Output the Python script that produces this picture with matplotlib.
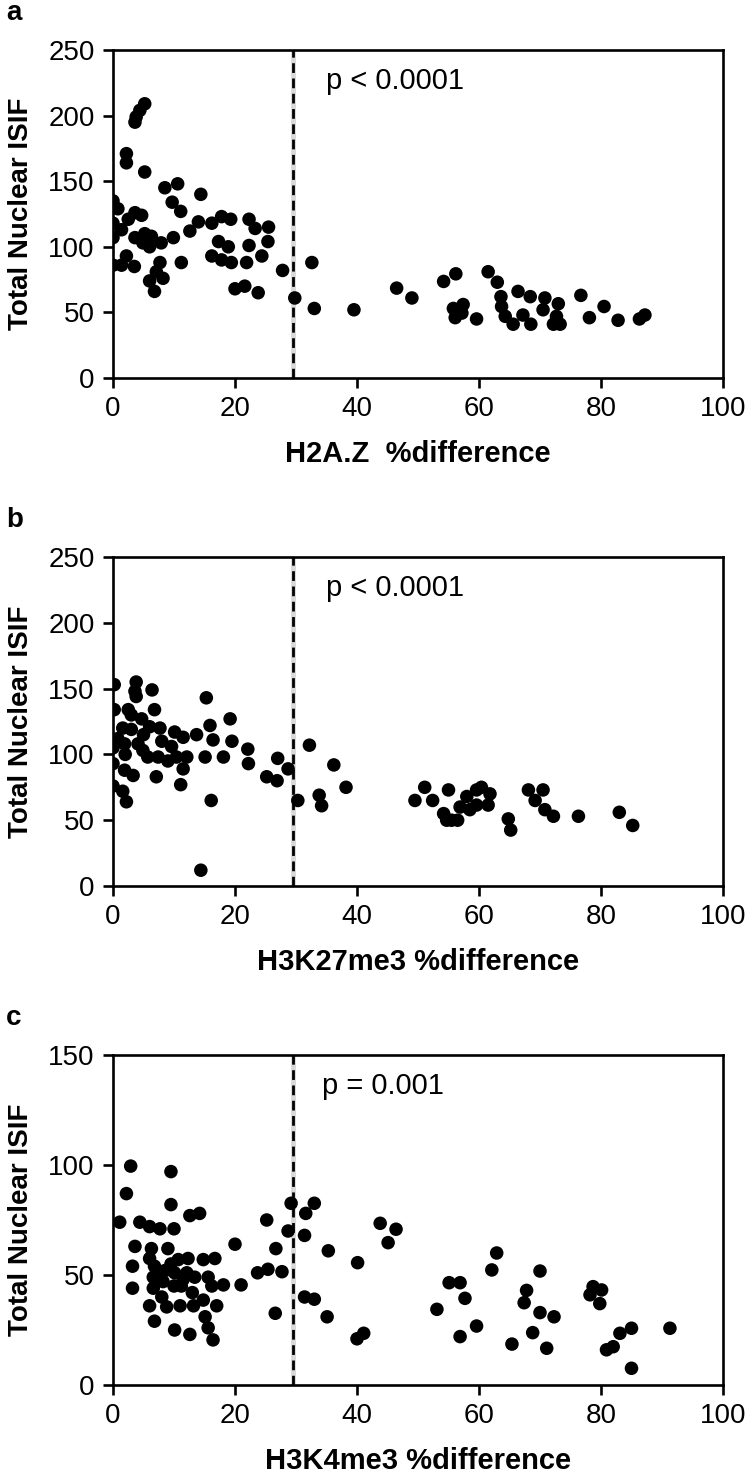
import matplotlib
matplotlib.use("Agg")
import matplotlib.pyplot as plt

# panel a : H2A.Z
a_x = [5.2, 4.4, 3.8, 3.6, 2.2, 2.2, 5.2, 8.5, 10.6, 14.4, 9.7, 11.1, 0, 0.8, 0, 3.6, 4.7, 2.5, 0, 1.4,
       3.6, 5.2, 6.3, 4.9, 6.0, 7.9, 9.9, 12.6, 14.0, 16.2, 17.8, 19.3, 22.3, 23.3, 25.5, 25.4, 22.3, 17.3, 18.9, 16.2,
       17.8, 19.4, 21.9, 24.4, 11.2, 7.7, 7.1, 6.0, 8.2, 6.8, 0, 1.4, 2.2, 3.5, 20.0, 21.6, 23.8, 27.8, 29.8, 32.6,
       33.0, 39.5, 46.5, 49.0, 54.2, 56.2, 61.5, 63.0, 55.8, 57.4, 56.1, 57.2, 59.6, 63.6, 63.7, 64.3, 65.6, 66.4, 68.4, 67.2,
       68.5, 70.8, 70.5, 73.0, 72.7, 72.2, 73.3, 76.7, 78.1, 80.5, 82.8, 86.3, 87.2]
a_y = [209, 204, 199, 195, 171, 164, 157, 145, 148, 140, 134, 127, 135, 129, 118, 126, 124, 121, 107, 113,
       107, 110, 108, 103, 100, 103, 107, 112, 119, 118, 123, 121, 121, 114, 115, 104, 101, 104, 100, 93,
       90, 88, 88, 93, 88, 88, 81, 74, 76, 66, 86, 86, 93, 85, 68, 70, 65, 82, 61, 88,
       53, 52, 68.5, 61, 73.6, 79.4, 81, 73, 53, 56, 46, 49.5, 45, 62, 54.5, 47, 41, 66, 62, 48,
       41, 61, 52, 56.6, 47, 41, 41, 63, 46, 54.5, 44, 45, 48]

# panel b : H3K27me3
b_x = [0.2, 3.8, 3.6, 6.4, 0.2, 2.5, 3.8, 6.8, 4.7, 1.6, 3.0, 6.0, 7.7, 0.8, 1.9, 0, 4.1, 4.9, 5.7, 7.4,
       0, 1.9, 3.3, 7.1, 0, 1.6, 2.2, 10.1, 11.5, 9.6, 10.4, 12.1, 11.5, 11.1, 13.7, 15.3, 15.9, 16.4, 15.1, 19.2,
       19.5, 18.1, 22.1, 22.2, 25.2, 27.0, 26.9, 28.7, 16.1, 14.4, 30.3, 32.2, 33.8, 34.2, 36.2, 38.2,
       2.0, 5.0, 8.0, 3.0, 9.0,
       49.5, 51.1, 52.4, 55.0, 54.2, 54.7, 55.5, 56.5, 56.9, 58.0, 59.6, 60.4, 61.8, 61.5, 59.6, 58.5,
       64.8, 65.2, 68.1, 70.5, 69.2, 70.8, 72.2, 76.3, 83.0, 85.2]
b_y = [153, 155, 148, 149, 134, 134, 144, 134, 127, 120, 119, 121, 120, 112, 108, 105, 108, 103, 98, 98,
       93, 88, 84, 83, 76, 72, 64, 117, 113, 106, 98, 98, 89, 77, 115, 143, 122, 111, 98, 127,
       110, 98, 104, 93, 83, 97, 80, 89, 65, 12, 65, 107, 69, 61, 92, 75,
       100, 115, 110, 130, 95,
       65, 75, 65, 73, 55, 50, 50, 50, 60, 68, 73, 75, 70, 61.5, 61.5, 58,
       51, 42.5, 73, 73, 65, 58, 53, 53, 56, 46]

# panel c : H3K4me3
c_x = [2.9, 2.2, 9.5, 9.5, 1.1, 4.4, 6.0, 7.7, 10.0, 12.6, 14.2, 3.6, 3.2, 3.2, 6.3, 9.0, 6.0, 6.8, 6.6, 6.6,
       8.5, 8.2, 10.1, 10.7, 12.3, 12.1, 11.2, 13.4, 14.8, 16.7, 15.6, 16.2, 18.1, 6.0, 6.8, 8.8, 11.0, 13.2, 15.1, 15.6,
       10.1, 12.6, 16.4, 14.8, 17.0, 20.0, 21.0, 23.7, 25.4, 27.7, 25.2, 26.7, 28.7, 29.2, 26.6, 31.6, 33.0, 31.4, 31.4, 33.0,
       35.3, 35.1, 7.5, 9.5, 11.5, 13.0, 8.0, 10.0,
       40.1, 40.0, 41.1, 43.8, 46.4, 45.1, 53.1, 55.1, 56.9, 57.7, 56.9, 59.6, 62.9, 62.1, 65.4, 67.8,
       67.4, 70.0, 70.0, 72.3, 68.8, 71.1, 78.7, 80.1, 78.2, 79.8, 83.1, 85.0, 80.9, 82.0, 91.3, 85.0]
c_y = [99.5, 87, 97, 82, 74, 74, 72, 71, 71, 77, 78, 63, 54, 44, 62, 62, 57.5, 54, 49, 44,
       52, 47, 51, 57, 57.5, 51, 45, 49, 57, 57.5, 49, 45, 45.5, 36, 29, 35.5, 36, 36, 31, 26,
       25, 23, 20.5, 38.6, 36, 64, 45.5, 51, 52.6, 51.5, 75, 62, 70, 82.6, 32.6, 78, 82.6, 68, 40, 39,
       61, 31, 50, 55, 48, 42, 40, 45,
       55.6, 21, 23.5, 73.5, 70.8, 64.7, 34.4, 46.5, 46.5, 39.4, 22, 26.8, 60, 52.3, 18.6, 43,
       37.4, 51.8, 32.9, 31, 23.8, 16.7, 44.7, 43.2, 41, 37, 23.5, 25.8, 16, 17.4, 25.8, 7.6]

panels = [
    ("a", a_x, a_y, "H2A.Z  %difference", "p < 0.0001", 250, 35.0),
    ("b", b_x, b_y, "H3K27me3 %difference", "p < 0.0001", 250, 35.0),
    ("c", c_x, c_y, "H3K4me3 %difference", "p = 0.001", 150, 34.3),
]
cutoff = 29.5

font = ["Liberation Sans", "DejaVu Sans"]

fig = plt.figure(figsize=(7.5, 14.75), dpi=100)
W, H = 750.0, 1475.0
# axes boxes in pixels: left, top, right, bottom
boxes = [(113, 50, 723, 378), (113, 557, 723, 886), (113, 1055, 723, 1385)]

for (lab, xs, ys, xlab, ptxt, ymax, px), (l, t, r, b) in zip(panels, boxes):
    ax = fig.add_axes([l / W, 1 - b / H, (r - l) / W, (b - t) / H])
    ax.scatter(xs, ys, s=95, color="black", edgecolors="none", zorder=3)
    # soft grey halo under the dashed cut-off line
    ax.axvline(cutoff, color="#d9d9d9", lw=3.5, zorder=1)
    ax.axvline(cutoff, color="black", ls=(0, (3.5, 2)), lw=2, zorder=2)
    ax.set_xlim(0, 100)
    ax.set_ylim(0, ymax)
    ax.set_xticks(range(0, 101, 20))
    ax.set_yticks(range(0, ymax + 1, 50))
    for sp in ax.spines.values():
        sp.set_linewidth(1.9)
    ax.tick_params(direction="out", length=7.2, width=1.9, labelsize=20, pad=6)
    for tl in ax.get_xticklabels() + ax.get_yticklabels():
        tl.set_fontfamily(font)
    ax.set_xlabel(xlab, fontsize=21, fontweight="bold", family=font, labelpad=13)
    ax.set_ylabel("Total Nuclear ISIF", fontsize=20, fontweight="bold", family=font, labelpad=10)
    ax.text(px, ymax * 0.905, ptxt, fontsize=21, family=font, va="center", ha="left")
    fig.text(6 / W, 1 - (t - 37) / H, lab, fontsize=20, fontweight="bold", family=font,
             va="center", ha="left")

fig.savefig("out.png", dpi=100)
